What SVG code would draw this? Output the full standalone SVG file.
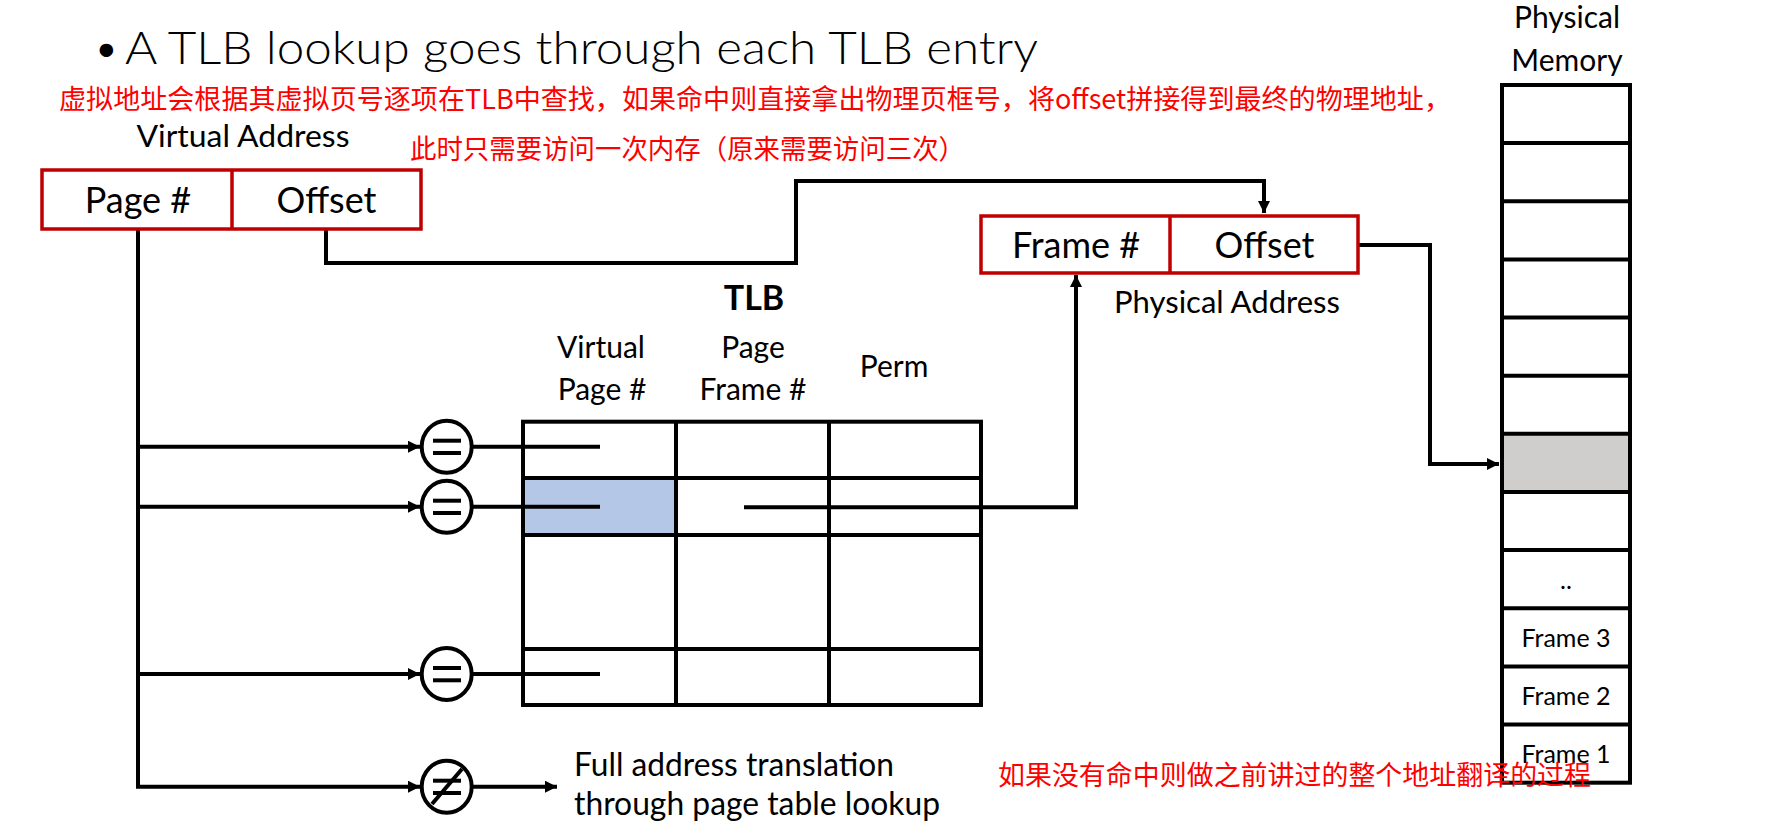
<svg xmlns="http://www.w3.org/2000/svg" width="1775" height="839" viewBox="0 0 1775 839">
<defs>
<style>
.en{font-family:Lato,"Liberation Sans","Noto Sans",sans-serif;fill:#000}
.t30{font-size:30px}
.t36{font-size:36px}
.t25{font-size:25px}
.zh{font-family:"Noto Sans CJK SC","Liberation Serif",sans-serif;font-size:27px;fill:#ff0000}
.rb{fill:#fff;stroke:#c00000;stroke-width:3.5}
.ln{fill:none;stroke:#000;stroke-width:4}
.cell{fill:#fff;stroke:#000;stroke-width:4}
.cmp{fill:#fff;stroke:#000;stroke-width:4}
</style>
<marker id="ah" markerUnits="userSpaceOnUse" markerWidth="13" markerHeight="13" refX="12" refY="6" orient="auto">
<path d="M0,0 L12,6 L0,12 z" fill="#000"/>
</marker>
</defs>
<rect width="1775" height="839" fill="#fff"/>

<g id="title">
<text class="en" x="93" y="64" font-size="46" font-weight="300">•</text>
<text class="en" x="125" y="64" font-size="46" font-weight="300" textLength="913" lengthAdjust="spacingAndGlyphs">A TLB lookup goes through each TLB entry</text>
</g>

<g id="connectors">
<path class="ln" d="M326,229 V263 H796 V181 H1264 V213" marker-end="url(#ah)"/>
<path class="ln" d="M138,229 V786.7"/>
<path class="ln" d="M136,446.7 H420" marker-end="url(#ah)"/>
<path class="ln" d="M136,506.7 H420" marker-end="url(#ah)"/>
<path class="ln" d="M136,674 H420" marker-end="url(#ah)"/>
<path class="ln" d="M136,786.7 H420" marker-end="url(#ah)"/>
<path class="ln" d="M472,786.7 H557" marker-end="url(#ah)"/>
<path class="ln" d="M1358,245 H1430 V464 H1499" marker-end="url(#ah)"/>
</g>

<g id="virtual-address">
<text class="en t30" x="136.5" y="147" textLength="213" lengthAdjust="spacingAndGlyphs">Virtual Address</text>
<rect class="rb" x="42" y="170" width="379" height="59"/>
<line x1="232" y1="170" x2="232" y2="229" stroke="#c00000" stroke-width="3.5"/>
<text class="en t36" x="138" y="213" text-anchor="middle">Page #</text>
<text class="en t36" x="326.5" y="213" text-anchor="middle">Offset</text>
</g>

<g id="physical-address">
<rect class="rb" x="981" y="216" width="377" height="57"/>
<line x1="1170" y1="216" x2="1170" y2="273" stroke="#c00000" stroke-width="3.5"/>
<text class="en t36" x="1076" y="258" text-anchor="middle">Frame #</text>
<text class="en t36" x="1264.5" y="258" text-anchor="middle">Offset</text>
<text class="en t30" x="1227" y="312.5" text-anchor="middle" textLength="226" lengthAdjust="spacingAndGlyphs">Physical Address</text>
</g>

<g id="tlb">
<text class="en" x="754" y="310" font-size="34" font-weight="bold" text-anchor="middle">TLB</text>
<text class="en t30" x="601" y="358" text-anchor="middle">Virtual</text>
<text class="en t30" x="602" y="400" text-anchor="middle">Page #</text>
<text class="en t30" x="753" y="358" text-anchor="middle">Page</text>
<text class="en t30" x="753" y="400" text-anchor="middle">Frame #</text>
<text class="en t30" x="894" y="377" text-anchor="middle">Perm</text>
<rect x="523" y="478" width="153" height="57" fill="#b4c7e7"/>
<rect x="523" y="421.7" width="458" height="283.3" fill="none" stroke="#000" stroke-width="4"/>
<line class="ln" x1="676" y1="421.7" x2="676" y2="705"/>
<line class="ln" x1="829" y1="421.7" x2="829" y2="705"/>
<line class="ln" x1="523" y1="478" x2="981" y2="478"/>
<line class="ln" x1="523" y1="535" x2="981" y2="535"/>
<line class="ln" x1="523" y1="649" x2="981" y2="649"/>
</g>

<g id="tlb-lines">
<path class="ln" d="M472,446.7 H600"/>
<path class="ln" d="M472,506.7 H600"/>
<path class="ln" d="M472,674 H600"/>
<path class="ln" d="M744,507.3 H1076 V275" marker-end="url(#ah)"/>
</g>

<g id="cmp1">
<ellipse class="cmp" cx="446.7" cy="446.7" rx="25" ry="26"/>
<line class="ln" x1="433" y1="440.7" x2="461" y2="440.7"/>
<line class="ln" x1="433" y1="453" x2="461" y2="453"/>
</g>
<g id="cmp2">
<ellipse class="cmp" cx="446.7" cy="506.7" rx="25" ry="26"/>
<line class="ln" x1="433" y1="500.7" x2="461" y2="500.7"/>
<line class="ln" x1="433" y1="513" x2="461" y2="513"/>
</g>
<g id="cmp3">
<ellipse class="cmp" cx="446.7" cy="674" rx="25" ry="26"/>
<line class="ln" x1="433" y1="668" x2="461" y2="668"/>
<line class="ln" x1="433" y1="680.3" x2="461" y2="680.3"/>
</g>
<g id="cmp-ne">
<ellipse class="cmp" cx="446.7" cy="786.7" rx="25" ry="26"/>
<line class="ln" x1="433" y1="780.7" x2="461" y2="780.7"/>
<line class="ln" x1="433" y1="793" x2="461" y2="793"/>
<line class="ln" x1="432" y1="804" x2="462" y2="769"/>
</g>

<g id="full-translation">
<text class="en" x="574" y="776" font-size="32" textLength="320" lengthAdjust="spacingAndGlyphs">Full address translation</text>
<text class="en" x="574" y="815" font-size="32" textLength="366" lengthAdjust="spacingAndGlyphs">through page table lookup</text>
</g>

<g id="physical-memory">
<text class="en t30" x="1567" y="28" text-anchor="middle">Physical</text>
<text class="en t30" x="1567" y="71" text-anchor="middle">Memory</text>
<rect x="1502" y="433.8" width="128" height="58.2" fill="#d0cecd"/>
<rect x="1502" y="85" width="128" height="697.7" fill="none" stroke="#000" stroke-width="4"/>
<g class="ln">
<line x1="1502" y1="143.1" x2="1630" y2="143.1"/>
<line x1="1502" y1="201.3" x2="1630" y2="201.3"/>
<line x1="1502" y1="259.4" x2="1630" y2="259.4"/>
<line x1="1502" y1="317.6" x2="1630" y2="317.6"/>
<line x1="1502" y1="375.7" x2="1630" y2="375.7"/>
<line x1="1502" y1="433.8" x2="1630" y2="433.8"/>
<line x1="1502" y1="492" x2="1630" y2="492"/>
<line x1="1502" y1="550.1" x2="1630" y2="550.1"/>
<line x1="1502" y1="608.3" x2="1630" y2="608.3"/>
<line x1="1502" y1="666.4" x2="1630" y2="666.4"/>
<line x1="1502" y1="724.5" x2="1630" y2="724.5"/>
</g>
<text class="en t25" x="1566" y="589" text-anchor="middle">..</text>
<text class="en t25" x="1566" y="647" text-anchor="middle">Frame 3</text>
<text class="en t25" x="1566" y="705" text-anchor="middle">Frame 2</text>
<text class="en t25" x="1566" y="763" text-anchor="middle">Frame 1</text>
</g>

<g id="notes">
<text class="zh" x="59" y="109" textLength="1392" lengthAdjust="spacingAndGlyphs">虚拟地址会根据其虚拟页号逐项在TLB中查找，如果命中则直接拿出物理页框号，将offset拼接得到最终的物理地址，</text>
<text class="zh" x="410" y="159" textLength="555" lengthAdjust="spacingAndGlyphs">此时只需要访问一次内存（原来需要访问三次）</text>
<text class="zh" x="998" y="785" textLength="593" lengthAdjust="spacingAndGlyphs">如果没有命中则做之前讲过的整个地址翻译的过程</text>
</g>
</svg>
